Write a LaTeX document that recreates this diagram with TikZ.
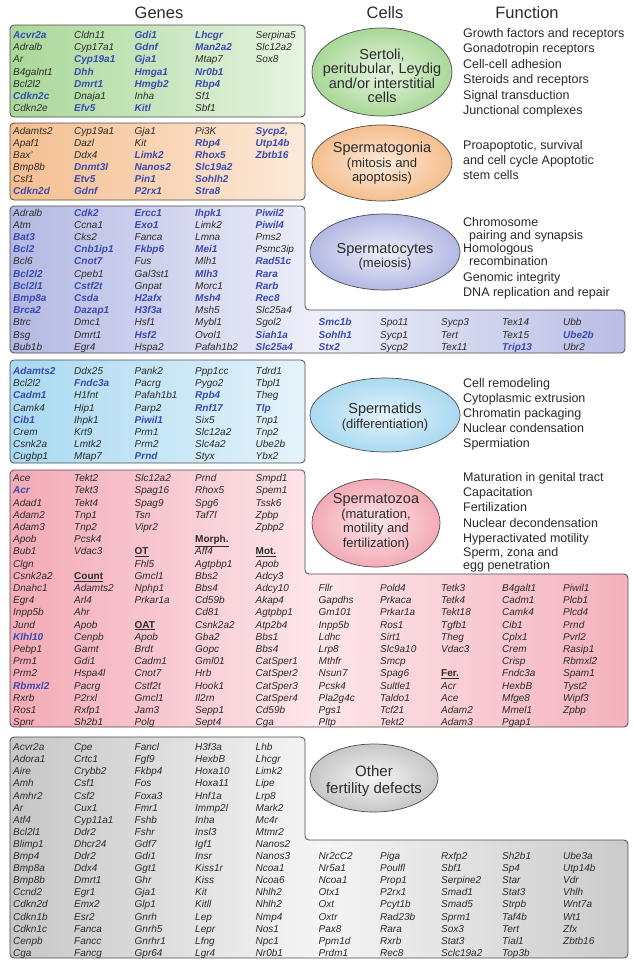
\documentclass[tikz,border=0pt]{standalone}
\usepackage{fontspec}
\setmainfont{Liberation Sans}
\usepackage{xcolor}
\usepackage{tikz}
\definecolor{cKey}{HTML}{3A4AB2}
\definecolor{cInk}{HTML}{2B2B2B}
\definecolor{cEdge}{HTML}{4D4D4D}
\definecolor{cSomL}{HTML}{A9D898}
\definecolor{cSomR}{HTML}{E7F4E2}
\definecolor{cGonL}{HTML}{F5BE8E}
\definecolor{cGonR}{HTML}{FCEADA}
\definecolor{cCytL}{HTML}{B3B8E3}
\definecolor{cCytM}{HTML}{EEEFF9}
\definecolor{cCytR}{HTML}{B9BDE5}
\definecolor{cTidL}{HTML}{A9D9F1}
\definecolor{cTidR}{HTML}{E4F3FB}
\definecolor{cZoaL}{HTML}{F3AAB6}
\definecolor{cZoaM}{HTML}{FDE6EA}
\definecolor{cZoaR}{HTML}{F4B1BC}
\definecolor{cOthL}{HTML}{C6C6C6}
\definecolor{cOthM}{HTML}{F5F5F5}
\definecolor{cOthR}{HTML}{CBCBCB}
\newcommand\kg[1]{\textbf{\color{cKey}#1}}
\newcommand\hd[1]{\underline{\textbf{\upshape#1}}}
\newcommand\cellsub[1]{{\fontsize{13}{14.5}\selectfont#1}}
\tikzset{
  gene/.style={anchor=base west,inner sep=0pt,text=cInk,font=\fontsize{10}{12}\selectfont\itshape},
  func/.style={anchor=base west,inner sep=0pt,text=cInk,font=\fontsize{12.5}{15}\selectfont},
  head/.style={anchor=base,inner sep=0pt,text=cInk,font=\fontsize{16.5}{20}\selectfont},
  panel/.style={draw=cEdge,line width=0.8pt,rounded corners=4pt},
  cell/.style={draw=cEdge,line width=0.7pt},
  celltxt/.style={align=center,inner sep=0pt,text=cInk,font=\fontsize{14.5}{14.5}\selectfont}}

\begin{document}
\begin{tikzpicture}[x=1pt,y=-1pt]
\path[use as bounding box,fill=white] (0,0) rectangle (632,961);
\node[head] (hGenes) at (159,18.5) {Genes};
\node[head] (hCells) at (385,18.5) {Cells};
\node[head] (hFunc) at (527,18.5) {Function};

\path[panel,left color=cSomL,right color=cSomR] (10,25) rectangle (305,117);
\path[panel,left color=cGonL,right color=cGonR] (10,123) rectangle (305,200);
\path[panel,left color=cCytL,right color=cCytR,middle color=cCytM] (10,206) -- (305,206) -- (305,310) -- (625,310) -- (625,353) -- (10,353) -- cycle;
\path[panel,left color=cTidL,right color=cTidR] (10,360) rectangle (305,463);
\path[panel,left color=cZoaL,right color=cZoaR,middle color=cZoaM] (10,470) -- (305,470) -- (305,574) -- (628,574) -- (628,727) -- (10,727) -- cycle;
\path[panel,left color=cOthL,right color=cOthR,middle color=cOthM] (10,737) -- (305,737) -- (305,840) -- (628,840) -- (628,958) -- (10,958) -- cycle;

\path[cell,inner color=cSomR,outer color=cSomL] (382,72) ellipse [x radius=70pt,y radius=44pt];
\path[cell,inner color=cGonR,outer color=cGonL] (382,163) ellipse [x radius=70pt,y radius=38pt];
\path[cell,inner color=cCytM,outer color=cCytL] (385,252) ellipse [x radius=75pt,y radius=38pt];
\path[cell,inner color=cTidR,outer color=cTidL] (385,415) ellipse [x radius=75pt,y radius=37pt];
\path[cell,inner color=cZoaM,outer color=cZoaL] (376,523) ellipse [x radius=64pt,y radius=44pt];
\path[cell,inner color=cOthM,outer color=cOthL] (374,778) ellipse [x radius=64pt,y radius=34pt];

\node[celltxt] (sertoli) at (382,76) {Sertoli,\\peritubular, Leydig\\and/or interstitial\\cells};
\node[celltxt] (gonia) at (382,163.5) {Spermatogonia\\\cellsub{(mitosis and}\\\cellsub{apoptosis)}};
\node[celltxt] (cytes) at (385,257) {Spermatocytes\\\cellsub{(meiosis)}};
\node[celltxt] (tids) at (385,417) {Spermatids\\\cellsub{(differentiation)}};
\node[celltxt] (zoa) at (376,522) {Spermatozoa\\\cellsub{(maturation,}\\\cellsub{motility and}\\\cellsub{fertilization)}};
\node[celltxt,font=\fontsize{15}{17}\selectfont] (other) at (374,781) {Other\\fertility defects};

\foreach \t [count=\i from 0] in {Growth factors and receptors,Gonadotropin receptors,Cell-cell adhesion,Steroids and receptors,Signal transduction,Junctional complexes} \node[func] (fsom\i) at (463,37.5+15.4*\i) {\t};
\foreach \t [count=\i from 0] in {{Proapoptotic, survival},and cell cycle Apoptotic,stem cells} \node[func] (fgon\i) at (463,149.5+15*\i) {\t};
\node[func] (fcyt0) at (463,226.5) {Chromosome};
\node[func] (fcyt1) at (469,239.5) {pairing and synapsis};
\node[func] (fcyt2) at (463,252.5) {Homologous};
\node[func] (fcyt3) at (469,265.5) {recombination};
\node[func] (fcyt4) at (463,281.5) {Genomic integrity};
\node[func] (fcyt5) at (463,296.5) {DNA replication and repair};
\foreach \t [count=\i from 0] in {Cell remodeling,Cytoplasmic extrusion,Chromatin packaging,Nuclear condensation,Spermiation} \node[func] (ftid\i) at (463,387.5+15*\i) {\t};
\foreach \t [count=\i from 0] in {Maturation in genital tract,Capacitation,Fertilization,Nuclear decondensation,Hyperactivated motility} \node[func] (fzoa\i) at (463,481.5+15.2*\i) {\t};
\node[func] (fzoa5) at (463,556.5) {Sperm, zona and};
\node[func] (fzoa6) at (463,569.5) {egg penetration};

\foreach \g [count=\i from 0] in {\kg{Acvr2a},Adralb,Ar,B4galnt1,Bcl2l2,\kg{Cdkn2c},Cdkn2e} \node[gene] (som-a\i) at (13,38.6+12.15*\i) {\g};
\foreach \g [count=\i from 0] in {Cldn11,Cyp17a1,\kg{Cyp19a1},\kg{Dhh},\kg{Dmrt1},Dnaja1,\kg{Efv5}} \node[gene] (som-b\i) at (74,38.6+12.15*\i) {\g};
\foreach \g [count=\i from 0] in {\kg{Gdi1},\kg{Gdnf},\kg{Gja1},\kg{Hmga1},\kg{Hmgb2},Inha,\kg{Kitl}} \node[gene] (som-c\i) at (134.5,38.6+12.15*\i) {\g};
\foreach \g [count=\i from 0] in {\kg{Lhcgr},\kg{Man2a2},Mtap7,\kg{Nr0b1},\kg{Rbp4},Sf1,Sbf1} \node[gene] (som-d\i) at (195,38.6+12.15*\i) {\g};
\foreach \g [count=\i from 0] in {Serpina5,Slc12a2,Sox8} \node[gene] (som-e\i) at (255.5,38.6+12.15*\i) {\g};

\foreach \g [count=\i from 0] in {Adamts2,Apaf1,Bax',Bmp8b,Csf1,\kg{Cdkn2d}} \node[gene] (gon-a\i) at (13,134.6+12*\i) {\g};
\foreach \g [count=\i from 0] in {Cyp19a1,Dazl,Ddx4,\kg{Dnmt3l},\kg{Etv5},\kg{Gdnf}} \node[gene] (gon-b\i) at (74,134.6+12*\i) {\g};
\foreach \g [count=\i from 0] in {Gja1,Kit,\kg{Limk2},\kg{Nanos2},\kg{Pin1},\kg{P2rx1}} \node[gene] (gon-c\i) at (134.5,134.6+12*\i) {\g};
\foreach \g [count=\i from 0] in {Pi3K,\kg{Rbp4},\kg{Rhox5},\kg{Slc19a2},\kg{Sohlh2},\kg{Stra8}} \node[gene] (gon-d\i) at (195,134.6+12*\i) {\g};
\foreach \g [count=\i from 0] in {\kg{Sycp2,},\kg{Utp14b},\kg{Zbtb16}} \node[gene] (gon-e\i) at (255.5,134.6+12*\i) {\g};

\foreach \g [count=\i from 0] in {Adralb,Atm,\kg{Bat3},\kg{Bcl2},Bcl6,\kg{Bcl2l2},\kg{Bcl2l1},\kg{Bmp8a},\kg{Brca2},Btrc,Bsg,Bub1b} \node[gene] (cyt-a\i) at (13,216.1+12.2*\i) {\g};
\foreach \g [count=\i from 0] in {\kg{Cdk2},Ccna1,Cks2,\kg{Cnb1ip1},\kg{Cnot7},Cpeb1,\kg{Cstf2t},\kg{Csda},\kg{Dazap1},Dmc1,Dmrt1,Egr4} \node[gene] (cyt-b\i) at (74,216.1+12.2*\i) {\g};
\foreach \g [count=\i from 0] in {\kg{Ercc1},\kg{Exo1},Fanca,\kg{Fkbp6},Fus,Gal3st1,Gnpat,\kg{H2afx},\kg{H3f3a},Hsf1,\kg{Hsf2},Hspa2} \node[gene] (cyt-c\i) at (134.5,216.1+12.2*\i) {\g};
\foreach \g [count=\i from 0] in {\kg{Ihpk1},Limk2,Lmna,\kg{Mei1},Mlh1,\kg{Mlh3},Morc1,\kg{Msh4},Msh5,Mybl1,Ovol1,Pafah1b2} \node[gene] (cyt-d\i) at (195,216.1+12.2*\i) {\g};
\foreach \g [count=\i from 0] in {\kg{Piwil2},\kg{Piwil4},Pms2,Psmc3ip,\kg{Rad51c},\kg{Rara},\kg{Rarb},\kg{Rec8},Slc25a4,Sgol2,\kg{Siah1a},\kg{Slc25a4}} \node[gene] (cyt-e\i) at (255.5,216.1+12.2*\i) {\g};
\foreach \g [count=\i from 9] in {\kg{Smc1b},\kg{Sohlh1},\kg{Stx2}} \node[gene] (cyt-f\i) at (318.5,216.1+12.2*\i) {\g};
\foreach \g [count=\i from 9] in {Spo11,Sycp1,Sycp2} \node[gene] (cyt-g\i) at (380,216.1+12.2*\i) {\g};
\foreach \g [count=\i from 9] in {Sycp3,Tert,Tex11} \node[gene] (cyt-h\i) at (441,216.1+12.2*\i) {\g};
\foreach \g [count=\i from 9] in {Tex14,Tex15,\kg{Trip13}} \node[gene] (cyt-i\i) at (502,216.1+12.2*\i) {\g};
\foreach \g [count=\i from 9] in {Ubb,\kg{Ube2b},Ubr2} \node[gene] (cyt-j\i) at (563,216.1+12.2*\i) {\g};

\foreach \g [count=\i from 0] in {\kg{Adamts2},Bcl2l2,\kg{Cadm1},Camk4,\kg{Cib1},Crem,Csnk2a,Cugbp1} \node[gene] (tid-a\i) at (13,374.6+12.15*\i) {\g};
\foreach \g [count=\i from 0] in {Ddx25,\kg{Fndc3a},H1fnt,Hip1,Ihpk1,Krt9,Lmtk2,Mtap7} \node[gene] (tid-b\i) at (74,374.6+12.15*\i) {\g};
\foreach \g [count=\i from 0] in {Pank2,Pacrg,Pafah1b1,Parp2,\kg{Piwil1},Prm1,Prm2,\kg{Prnd}} \node[gene] (tid-c\i) at (134.5,374.6+12.15*\i) {\g};
\foreach \g [count=\i from 0] in {Ppp1cc,Pygo2,\kg{Rpb4},\kg{Rnf17},Six5,Slc12a2,Slc4a2,Styx} \node[gene] (tid-d\i) at (195,374.6+12.15*\i) {\g};
\foreach \g [count=\i from 0] in {Tdrd1,Tbpl1,Theg,\kg{Tlp},Tnp1,Tnp2,Ube2b,Ybx2} \node[gene] (tid-e\i) at (255.5,374.6+12.15*\i) {\g};

\foreach \g [count=\i from 0] in {Ace,\kg{Acr},Adad1,Adam2,Adam3,Apob,Bub1,Clgn,Csnk2a2,Dnahc1,Egr4,Inpp5b,Jund,\kg{Klhl10},Pebp1,Prm1,Prm2,\kg{Rbmxl2},Rxrb,Ros1,Spnr} \node[gene] (zoa-a\i) at (13,481.6+12.2*\i) {\g};
\foreach \g [count=\i from 0] in {Tekt2,Tekt3,Tekt4,Tnp1,Tnp2,Pcsk4,Vdac3} \node[gene] (zoa-b\i) at (74,481.6+12.2*\i) {\g};
\foreach \g [count=\i from 8] in {\hd{Count},Adamts2,Arl4,Ahr,Apob,Cenpb,Gamt,Gdi1,Hspa4l,Pacrg,P2rxl,Rxfp1,Sh2b1} \node[gene] (zoa-b\i) at (74,481.6+12.2*\i) {\g};
\foreach \g [count=\i from 0] in {Slc12a2,Spag16,Spag9,Tsn,Vipr2} \node[gene] (zoa-c\i) at (134.5,481.6+12.2*\i) {\g};
\foreach \g [count=\i from 6] in {\hd{OT},Fhl5,Gmcl1,Nphp1,Prkar1a} \node[gene] (zoa-c\i) at (134.5,481.6+12.2*\i) {\g};
\foreach \g [count=\i from 12] in {\hd{OAT},Apob,Brdt,Cadm1,Cnot7,Cstf2t,Gmcl1,Jam3,Polg} \node[gene] (zoa-c\i) at (134.5,481.6+12.2*\i) {\g};
\foreach \g [count=\i from 0] in {Prnd,Rhox5,Spg6,Taf7l} \node[gene] (zoa-d\i) at (195,481.6+12.2*\i) {\g};
\foreach \g [count=\i from 5] in {\hd{Morph.},Aff4,Agtpbp1,Bbs2,Bbs4,Cd59b,Cd81,Csnk2a2,Gba2,Gopc,Gml01,Hrb,Hook1,Il2rn,Sepp1,Sept4} \node[gene] (zoa-d\i) at (195,481.6+12.2*\i) {\g};
\foreach \g [count=\i from 0] in {Smpd1,Spem1,Tssk6,Zpbp,Zpbp2} \node[gene] (zoa-e\i) at (255.5,481.6+12.2*\i) {\g};
\foreach \g [count=\i from 6] in {\hd{Mot.},Apob,Adcy3,Adcy10,Akap4,Agtpbp1,Atp2b4,Bbs1,Bbs4,CatSper1,CatSper2,CatSper3,CatSper4,Cd59b,Cga} \node[gene] (zoa-e\i) at (255.5,481.6+12.2*\i) {\g};
\foreach \g [count=\i from 9] in {Fllr,Gapdhs,Gm101,Inpp5b,Ldhc,Lrp8,Mthfr,Nsun7,Pcsk4,Pla2g4c,Pgs1,Pltp} \node[gene] (zoa-f\i) at (318.5,481.6+12.2*\i) {\g};
\foreach \g [count=\i from 9] in {Pold4,Prkaca,Prkar1a,Ros1,Sirt1,Slc9a10,Smcp,Spag6,Sultle1,Taldo1,Tcf21,Tekt2} \node[gene] (zoa-g\i) at (380,481.6+12.2*\i) {\g};
\foreach \g [count=\i from 9] in {Tetk3,Tetk4,Tekt18,Tgfb1,Theg,Vdac3} \node[gene] (zoa-h\i) at (441,481.6+12.2*\i) {\g};
\foreach \g [count=\i from 16] in {\hd{Fer.},Acr,Ace,Adam2,Adam3} \node[gene] (zoa-h\i) at (441,481.6+12.2*\i) {\g};
\foreach \g [count=\i from 9] in {B4galt1,Cadm1,Camk4,Cib1,Cplx1,Crem,Crisp,Fndc3a,HexbB,Mfge8,Mmel1,Pgap1} \node[gene] (zoa-i\i) at (502,481.6+12.2*\i) {\g};
\foreach \g [count=\i from 9] in {Piwil1,Plcb1,Plcd4,Prnd,Pvrl2,Rasip1,Rbmxl2,Spam1,Tyst2,Wipf3,Zpbp} \node[gene] (zoa-j\i) at (563,481.6+12.2*\i) {\g};

\foreach \g [count=\i from 0] in {Acvr2a,Adora1,Aire,Amh,Amhr2,Ar,Atf4,Bcl2l1,Blimp1,Bmp4,Bmp8a,Bmp8b,Ccnd2,Cdkn2d,Cdkn1b,Cdkn1c,Cenpb,Cga} \node[gene] (oth-a\i) at (13,750.6+12.1*\i) {\g};
\foreach \g [count=\i from 0] in {Cpe,Crtc1,Crybb2,Csf1,Csf2,Cux1,Cyp11a1,Ddr2,Dhcr24,Ddr2,Ddx4,Dmrt1,Egr1,Emx2,Esr2,Fanca,Fancc,Fancg} \node[gene] (oth-b\i) at (74,750.6+12.1*\i) {\g};
\foreach \g [count=\i from 0] in {Fancl,Fgf9,Fkbp4,Fos,Foxa3,Fmr1,Fshb,Fshr,Gdf7,Gdi1,Ggt1,Ghr,Gja1,Glp1,Gnrh,Gnrh5,Gnrhr1,Gpr64} \node[gene] (oth-c\i) at (134.5,750.6+12.1*\i) {\g};
\foreach \g [count=\i from 0] in {H3f3a,HexbB,Hoxa10,Hoxa11,Hnf1a,Immp2l,Inha,Insl3,Igf1,Insr,Kiss1r,Kiss,Kit,Kitll,Lep,Lepr,Lfng,Lgr4} \node[gene] (oth-d\i) at (195,750.6+12.1*\i) {\g};
\foreach \g [count=\i from 0] in {Lhb,Lhcgr,Limk2,Lipe,Lrp8,Mark2,Mc4r,Mtmr2,Nanos2,Nanos3,Ncoa1,Ncoa6,Nhlh2,Nhlh2,Nmp4,Nos1,Npc1,Nr0b1} \node[gene] (oth-e\i) at (255.5,750.6+12.1*\i) {\g};
\foreach \g [count=\i from 9] in {Nr2cC2,Nr5a1,Ncoa1,Otx1,Oxt,Oxtr,Pax8,Ppm1d,Prdm1} \node[gene] (oth-f\i) at (318.5,750.6+12.1*\i) {\g};
\foreach \g [count=\i from 9] in {Piga,Poulfl,Prop1,P2rx1,Pcyt1b,Rad23b,Rara,Rxrb,Rec8} \node[gene] (oth-g\i) at (380,750.6+12.1*\i) {\g};
\foreach \g [count=\i from 9] in {Rxfp2,Sbf1,Serpine2,Smad1,Smad5,Sprm1,Sox3,Stat3,Sclc19a2} \node[gene] (oth-h\i) at (441,750.6+12.1*\i) {\g};
\foreach \g [count=\i from 9] in {Sh2b1,Sp4,Star,Stat3,Strpb,Taf4b,Tert,Tial1,Top3b} \node[gene] (oth-i\i) at (502,750.6+12.1*\i) {\g};
\foreach \g [count=\i from 9] in {Ube3a,Utp14b,Vdr,Vhlh,Wnt7a,Wt1,Zfx,Zbtb16} \node[gene] (oth-j\i) at (563,750.6+12.1*\i) {\g};
\end{tikzpicture}
\end{document}
